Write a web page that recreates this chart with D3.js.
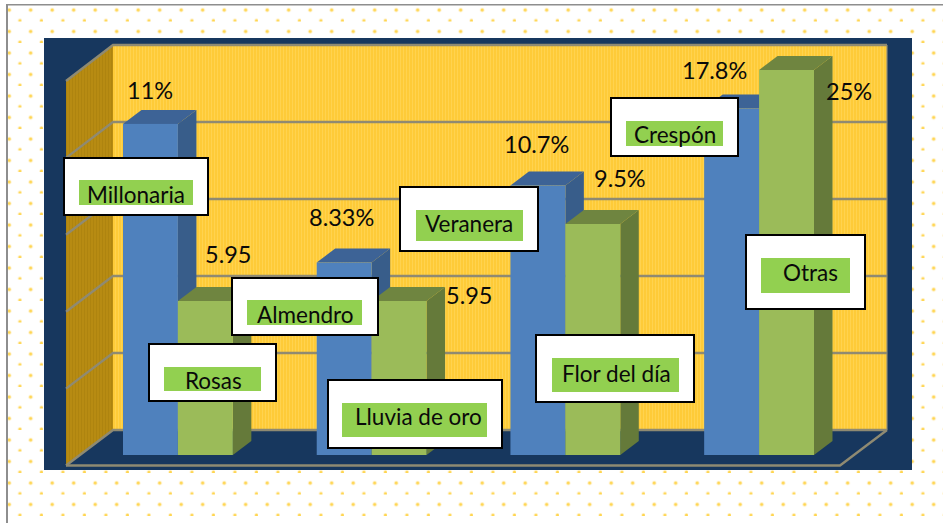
<!DOCTYPE html>
<html><head><meta charset="utf-8">
<script src="https://cdn.jsdelivr.net/npm/d3@7"></script>
<style>html,body{margin:0;padding:0;background:#fff}svg{display:block}text{font-family:Lato,"Open Sans",sans-serif;fill:#0a0a0a}</style>
</head><body><svg id="c" width="943" height="523"></svg>
<script>
// Data
const groups = ["g1","g2","g3","g4"];
const seriesNames = ["a","b"];
const namesA = ["Millonaria","Almendro","Veranera","Crespón"];
const namesB = ["Rosas","Lluvia de oro","Flor del día","Otras"];
const valuesA = [21.5,12.5,17.5,22.5];
const valuesB = [10,10,15,25];
const pctA = ["11%","8.33%","10.7%","17.8%"];
const pctB = ["5.95","5.95","9.5%","25%"];
const axisTicks = [0,5,10,15,20,25];

// Layout of free-floating annotations (hand-placed in the original)
const pctPos = {
 "a0":[127,99],"a1":[309,226],"a2":[504,153],"a3":[682,79],
 "b0":[205,263],"b1":[446,304],"b2":[594,187],"b3":[826,100]};
const boxPos = {
 "Millonaria":{b:[63,157,209,216],g:[79,180,193,205],t:[87,203]},
 "Rosas":{b:[148,343,277,402],g:[164,367,261,391],t:[185,389]},
 "Almendro":{b:[231,277,379,336],g:[247,300,362,325],t:[257,323]},
 "Lluvia de oro":{b:[327,379,503,449],g:[342,403,487,437],t:[355,425]},
 "Veranera":{b:[399,186,539,252],g:[416,210,523,241],t:[425,232]},
 "Flor del día":{b:[535,334,695,403],g:[552,358,679,392],t:[562,382]},
 "Crespón":{b:[610,97,739,157],g:[626,121,723,146],t:[634,143]},
 "Otras":{b:[745,234,866,310],g:[761,258,850,293],t:[783,281]}};

const svg = d3.select("#c");
const defs = svg.append("defs");
const dots = defs.append("pattern").attr("id","dots").attr("patternUnits","userSpaceOnUse")
  .attr("x",0).attr("y",0).attr("width",21.5).attr("height",21.5);
[[9.2,10],[20,20.75]].forEach(([x,y])=>{
  dots.append("circle").attr("cx",x).attr("cy",y).attr("r",2.2).attr("fill","#fff0c4");
  dots.append("circle").attr("cx",x).attr("cy",y).attr("r",1.4).attr("fill","#ffd54f");
});
const wall = defs.append("pattern").attr("id","wall").attr("patternUnits","userSpaceOnUse").attr("width",3).attr("height",3);
wall.append("rect").attr("width",3).attr("height",3).attr("fill","#fecb38");
wall.append("rect").attr("x",1).attr("width",1).attr("height",3).attr("fill","#ffd34f");
const sideW = defs.append("pattern").attr("id","side").attr("patternUnits","userSpaceOnUse").attr("width",3).attr("height",3);
sideW.append("rect").attr("width",3).attr("height",3).attr("fill","#b78b12");
sideW.append("rect").attr("width",1).attr("height",3).attr("fill","#ae840f");

// page background and rules
svg.append("rect").attr("x",8).attr("y",5.5).attr("width",935).attr("height",518).attr("fill","url(#dots)");
svg.append("rect").attr("x",6).attr("y",4).attr("width",2).attr("height",519).attr("fill","#8e8e8e");
svg.append("rect").attr("x",6).attr("y",4).attr("width",937).attr("height",1.5).attr("fill","#8e8e8e");

// chart panel
svg.append("rect").attr("x",44).attr("y",38).attr("width",868).attr("height",432).attr("fill","#17375e");

const wallLeft = 113, wallRight = 887, frontLeft = 66, frontRight = 840;
const yFront = d3.scaleLinear().domain([0,25]).range([455,70]);
const yBack  = d3.scaleLinear().domain([0,25]).range([430,45]);
const yEdge  = d3.scaleLinear().domain([0,25]).range([465.5,81]);
const x0 = d3.scaleBand().domain(groups).range([123,814]).paddingInner(0.433);
const x1 = d3.scaleBand().domain(seriesNames).range([0,x0.bandwidth()]);
const dx = 18.5, dy = 14;
const line = d3.line();
const gridC = "#8f8a72";

svg.append("path").attr("d",line([[wallLeft,yBack(25)],[wallRight,yBack(25)],[wallRight,yBack(0)],[wallLeft,yBack(0)]])+"Z").attr("fill","url(#wall)");
svg.append("path").attr("d",line([[frontLeft,yEdge(25)],[wallLeft,yBack(25)],[wallLeft,yBack(0)],[frontLeft,yEdge(0)]])+"Z").attr("fill","url(#side)");

const gridG = svg.append("g").attr("fill","none").attr("stroke",gridC).attr("stroke-width",2.4);
gridG.selectAll("path.g").data(axisTicks).join("path").attr("class","g")
  .attr("d",t=>line([[frontLeft,yEdge(t)],[wallLeft,yBack(t)],[wallRight,yBack(t)]]));
gridG.append("path").attr("d",line([[frontLeft,yEdge(0)],[frontRight,yEdge(0)],[wallRight,yBack(0)]]));
gridG.append("path").attr("d",line([[wallRight,yBack(25)],[wallRight,yBack(0)]])).attr("stroke-width",1.2);

// bars
const colors = {a:{front:"#4f81bd",top:"#3d6396",side:"#385d8a"},b:{front:"#9bbb59",top:"#6f8540",side:"#657a3a"}};
const bars = [];
groups.forEach((g,i)=>{
  bars.push({g,s:"a",v:valuesA[i]});
  bars.push({g,s:"b",v:valuesB[i]});
});
const barG = svg.append("g").selectAll("g").data(bars).join("g");
barG.each(function(d){
  const el = d3.select(this), c = colors[d.s];
  const l = x0(d.g)+x1(d.s), r = l+x1.bandwidth(), t = yFront(d.v), b = yFront(0);
  el.append("path").attr("fill",c.side).attr("d",line([[r,t],[r+dx,t-dy],[r+dx,b-dy],[r,b]])+"Z");
  el.append("path").attr("fill",c.top).attr("d",line([[l,t],[l+dx,t-dy],[r+dx,t-dy],[r,t]])+"Z");
  el.append("rect").attr("x",l).attr("y",t).attr("width",r-l).attr("height",b-t).attr("fill",c.front);
});

// percentage labels
const pcts = [...pctA.map((t,i)=>({t,k:"a"+i})),...pctB.map((t,i)=>({t,k:"b"+i}))];
svg.append("g").selectAll("text").data(pcts).join("text")
  .attr("x",d=>pctPos[d.k][0]).attr("y",d=>pctPos[d.k][1]).attr("font-size",23.5).text(d=>d.t);

// callouts
const callG = svg.append("g").selectAll("g").data([...namesA,...namesB]).join("g");
callG.each(function(n){
  const p = boxPos[n], el = d3.select(this);
  el.append("rect").attr("x",p.b[0]+1).attr("y",p.b[1]+1).attr("width",p.b[2]-p.b[0]-2).attr("height",p.b[3]-p.b[1]-2)
    .attr("fill","#fff").attr("stroke","#000").attr("stroke-width",2);
  el.append("rect").attr("x",p.g[0]).attr("y",p.g[1]).attr("width",p.g[2]-p.g[0]).attr("height",p.g[3]-p.g[1]).attr("fill","#92d050");
  el.append("text").attr("x",p.t[0]).attr("y",p.t[1]).attr("font-size",22.5).text(n);
});
</script></body></html>
